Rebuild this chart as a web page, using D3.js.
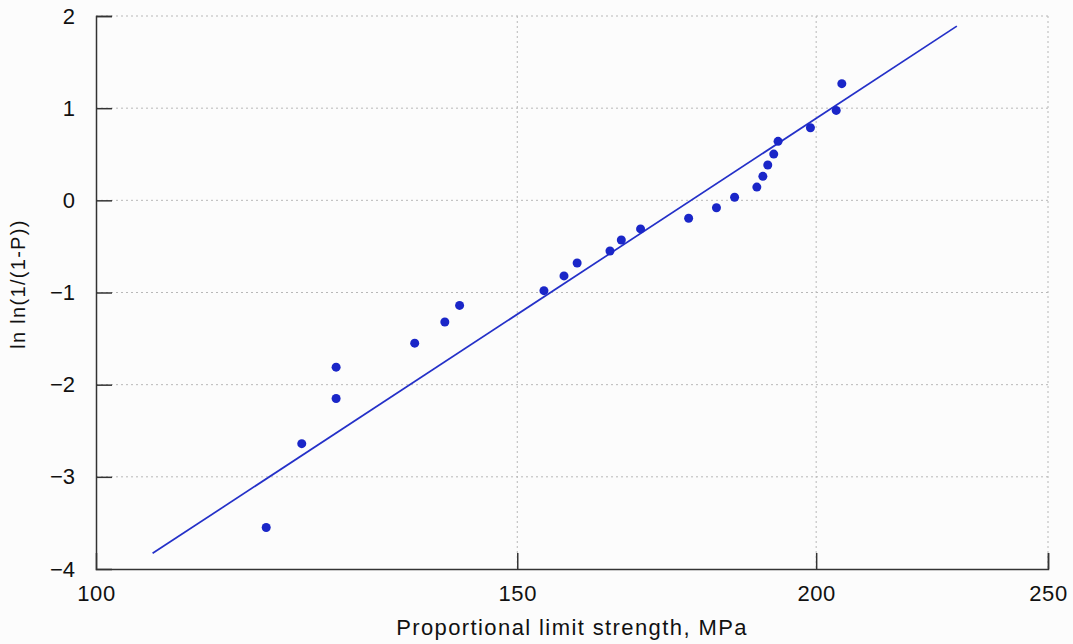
<!DOCTYPE html>
<html><head><meta charset="utf-8">
<script src="https://cdn.jsdelivr.net/npm/d3@7/dist/d3.min.js"></script>
<style>
html,body{margin:0;padding:0;background:#fcfcfc;}
svg{display:block;font-family:"Liberation Sans",Arial,Helvetica,sans-serif;}
</style></head>
<body>
<svg id="chart" width="1073" height="644"></svg>
<script>
// Data
const strength = [117.8, 121.9, 126.0, 126.0, 135.9, 139.9, 141.9, 153.9, 156.9, 158.9, 164.0, 165.8, 168.9, 176.9, 181.7, 184.9, 188.9, 190.0, 190.9, 192.0, 192.8, 198.9, 203.9, 205.0];
const lnln = [-3.55, -2.64, -2.15, -1.81, -1.55, -1.32, -1.14, -0.98, -0.82, -0.68, -0.55, -0.43, -0.31, -0.195, -0.08, 0.033, 0.144, 0.26, 0.383, 0.502, 0.64, 0.788, 0.976, 1.266];
const fitX = [105.6, 229.0];
const fitY = [-3.83, 1.89];
const xTicks = [100, 150, 200, 250];
const yTicks = [-4, -3, -2, -1, 0, 1, 2];

const svg = d3.select("#chart");
const mLeft = 96, mRight = 1048, mTop = 16, mBottom = 569;
const x = d3.scaleLog().domain([100, 250]).range([mLeft, mRight]);
const y = d3.scaleLinear().domain([-4, 2]).range([mBottom, mTop]);

// grid
const grid = svg.append("g");
grid.selectAll("line.gx").data(xTicks.filter(d => d > 100)).join("line")
  .attr("x1", d => x(d)).attr("x2", d => x(d)).attr("y1", mTop).attr("y2", mBottom)
  .attr("stroke", "#b8b8b8").attr("stroke-width", 1).attr("stroke-dasharray", "2,3");
grid.selectAll("line.gy").data(yTicks.filter(d => d > -4)).join("line")
  .attr("x1", mLeft).attr("x2", mRight).attr("y1", d => y(d)).attr("y2", d => y(d))
  .attr("stroke", "#b8b8b8").attr("stroke-width", 1).attr("stroke-dasharray", "2,3");

// axes
const fmt = d => d < 0 ? "\u2212" + Math.abs(d) : String(d);
const xAxis = svg.append("g").attr("transform", `translate(0,${mBottom})`)
  .call(d3.axisBottom(x).tickValues(xTicks).tickFormat(d3.format("d")).tickSize(-16).tickPadding(17));
const yAxis = svg.append("g").attr("transform", `translate(${mLeft},0)`)
  .call(d3.axisLeft(y).tickValues(yTicks).tickFormat(fmt).tickSize(-16).tickPadding(21));
[xAxis, yAxis].forEach(a => {
  a.select(".domain").attr("stroke", "#333").attr("stroke-width", 1.5);
  a.selectAll(".tick line").attr("stroke", "#333").attr("stroke-width", 1.5);
  a.selectAll(".tick text").attr("fill", "#111").attr("font-size", 22)
    .attr("font-family", "Liberation Sans, Arial, sans-serif");
});
yAxis.selectAll(".tick line").filter(d => d === -4).remove();
xAxis.selectAll(".tick line").filter(d => d === 100).remove();
xAxis.selectAll(".tick text").attr("y", 16).attr("dy", "0.71em").attr("letter-spacing", 0.6);

// labels
svg.append("text").attr("x", 572).attr("y", 635).attr("text-anchor", "middle")
  .attr("font-size", 22).attr("letter-spacing", 1.4).attr("fill", "#111")
  .text("Proportional limit strength, MPa");
svg.append("text").attr("transform", "translate(25,284) rotate(-90)").attr("text-anchor", "middle")
  .attr("font-size", 20).attr("letter-spacing", 1.3).attr("fill", "#111").text("ln ln(1/(1-P))");

// fit line
svg.append("line")
  .attr("x1", x(fitX[0])).attr("y1", y(fitY[0]))
  .attr("x2", x(fitX[1])).attr("y2", y(fitY[1]))
  .attr("stroke", "#2430c8").attr("stroke-width", 1.7);

// points
svg.append("g").selectAll("circle").data(strength.map((s, i) => [s, lnln[i]])).join("circle")
  .attr("cx", d => x(d[0])).attr("cy", d => y(d[1])).attr("r", 4.5)
  .attr("fill", "#1a26c8");
</script>
</body></html>
